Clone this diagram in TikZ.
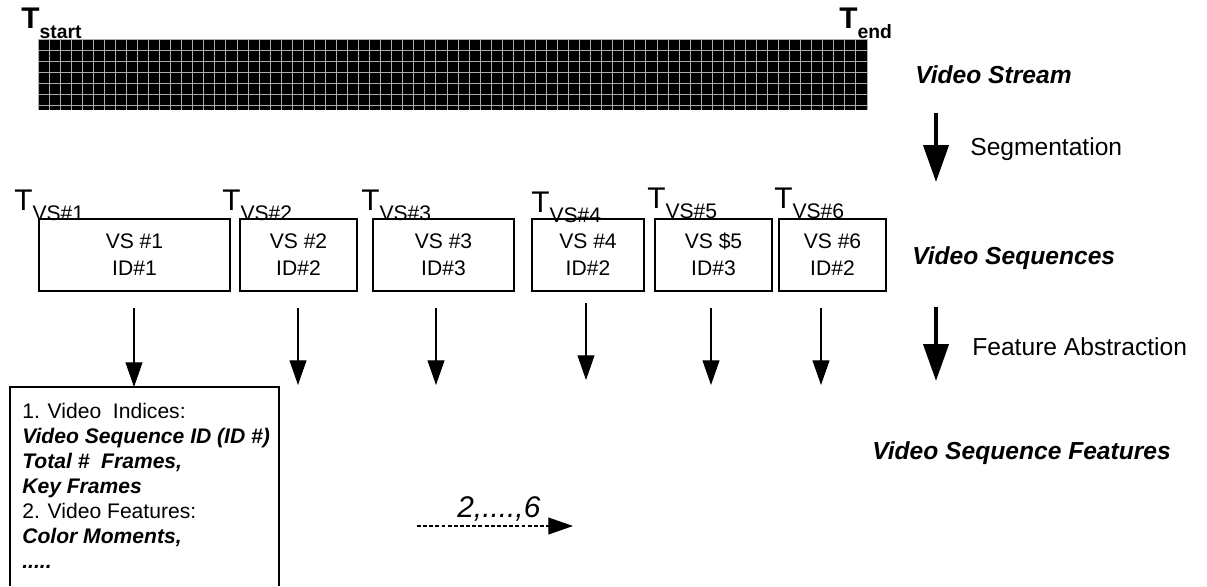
\documentclass[tikz,border=0pt]{standalone}
\usepackage{fontspec}
\setmainfont{Liberation Sans}
\usetikzlibrary{arrows.meta, positioning}

\newcommand{\vslab}[1]{T\raisebox{-5.7pt}{\fontsize{12}{12}\selectfont VS\##1}}
\newcommand{\streamlab}[1]{T\raisebox{-5.7pt}{\fontsize{11}{11}\selectfont #1}}

\begin{document}
\begin{tikzpicture}[x=0.02cm,y=-0.02cm,every node/.style={inner sep=0pt,font=\fontsize{12}{15.3}\selectfont},
    seqbox/.style={draw,line width=0.6pt,minimum height=1.44cm,align=center},
    bigarrow/.style={line width=2.3pt,-{Triangle[width=14.2pt,length=21pt]}},
    thinarrow/.style={line width=0.6pt,-{Triangle[width=9.6pt,length=14pt]}},
    stage/.style={anchor=base west,font=\fontsize{14}{14}\selectfont},
    layer/.style={anchor=base west,font=\fontsize{14}{14}\selectfont\bfseries\itshape},
    tvs/.style={anchor=base west,font=\fontsize{17}{17}\selectfont},
    tstream/.style={anchor=base west,font=\fontsize{17}{17}\selectfont\bfseries}]
      \useasboundingbox (0,0) rectangle (1207,586);
      \fill[black] (38,39) rectangle (867,110);
      \foreach \i in {0,...,75}
        \draw[gray!65,line width=0.5pt] ({38+11.053*\i},39) -- ({38+11.053*\i},110);
      \foreach \j in {0,...,6}
        \draw[gray!65,line width=0.5pt] (38,{39+11.1*\j}) -- (867,{39+11.1*\j});
      \node[tstream] (tstart) at (21,28) {\streamlab{start}};
      \node[tstream] (tend) at (839,28) {\streamlab{end}};
      \node[layer] (stream) at (915,83) {Video Stream};
      \coordinate (seg1) at (936,113);
      \coordinate (seg2) at (936,182);
      \draw[bigarrow] (seg1) -- (seg2);
      \node[stage] (segm) at (970,155) {Segmentation};
      \node[tvs] (t1) at (14,210) {\vslab{1}};
      \node[tvs] (t2) at (222,210) {\vslab{2}};
      \node[tvs] (t3) at (361,210) {\vslab{3}};
      \node[tvs] (t4) at (531,212) {\vslab{4}};
      \node[tvs] (t5) at (647,208) {\vslab{5}};
      \node[tvs] (t6) at (774,208) {\vslab{6}};
      \node[seqbox,minimum width=3.82cm] (vs1) at (134.5,255) {VS \#1\\ID\#1};
      \node[seqbox,minimum width=2.34cm] (vs2) at (298.5,255) {VS \#2\\ID\#2};
      \node[seqbox,minimum width=2.82cm] (vs3) at (443.5,255) {VS \#3\\ID\#3};
      \node[seqbox,minimum width=2.24cm] (vs4) at (588,255) {VS \#4\\ID\#2};
      \node[seqbox,minimum width=2.34cm] (vs5) at (713.5,255) {VS \smash{\$}5\\ID\#3};
      \node[seqbox,minimum width=2.14cm] (vs6) at (832.5,255) {VS \#6\\ID\#2};
      \node[layer] (seqs) at (912,264) {Video Sequences};
      \coordinate (abs1) at (936,307);
      \coordinate (abs2) at (936,381);
      \draw[bigarrow] (abs1) -- (abs2);
      \node[stage] (abstr) at (972,355) {Feature Abstraction};
      \draw[line width=0.6pt] (10,586) -- (10,387) -- (279,387) -- (279,586);
      \coordinate (feat) at (134,387);
      \coordinate (top1) at (134,308);
      \draw[thinarrow] (top1) -- (feat);
      \foreach \n/\x/\a/\b in {2/298/308/385,3/436/308/385,4/586/303/380,5/711/308/385,6/821/308/385}{
        \coordinate (top\n) at (\x,\a);
        \coordinate (tip\n) at (\x,\b);
        \draw[thinarrow] (top\n) -- (tip\n);
      }
      \node[anchor=north west,align=left,font=\fontsize{12}{14.2}\selectfont] (feattext) at (22,403)
        {1. Video~ Indices:\\
         \textbf{\textit{Video Sequence ID (ID \#)}}\\
         \textbf{\textit{Total \#~ Frames,}}\\
         \textbf{\textit{Key Frames}}\\
         2. Video Features:\\
         \textbf{\textit{Color Moments,}}\\
         \textbf{\textit{.....}}};
      \node[layer] (feats) at (872,459) {Video Sequence Features};
      \coordinate (rest1) at (417,526);
      \coordinate (rest2) at (573,526);
      \draw[line width=0.6pt,dash pattern=on 2.2pt off 1.3pt,-{Triangle[width=9.6pt,length=14pt]}] (rest1) -- (rest2);
      \node[anchor=base west,font=\fontsize{17}{17}\selectfont\itshape] (more) at (457,517) {2,....,6};
    \end{tikzpicture}
\end{document}
